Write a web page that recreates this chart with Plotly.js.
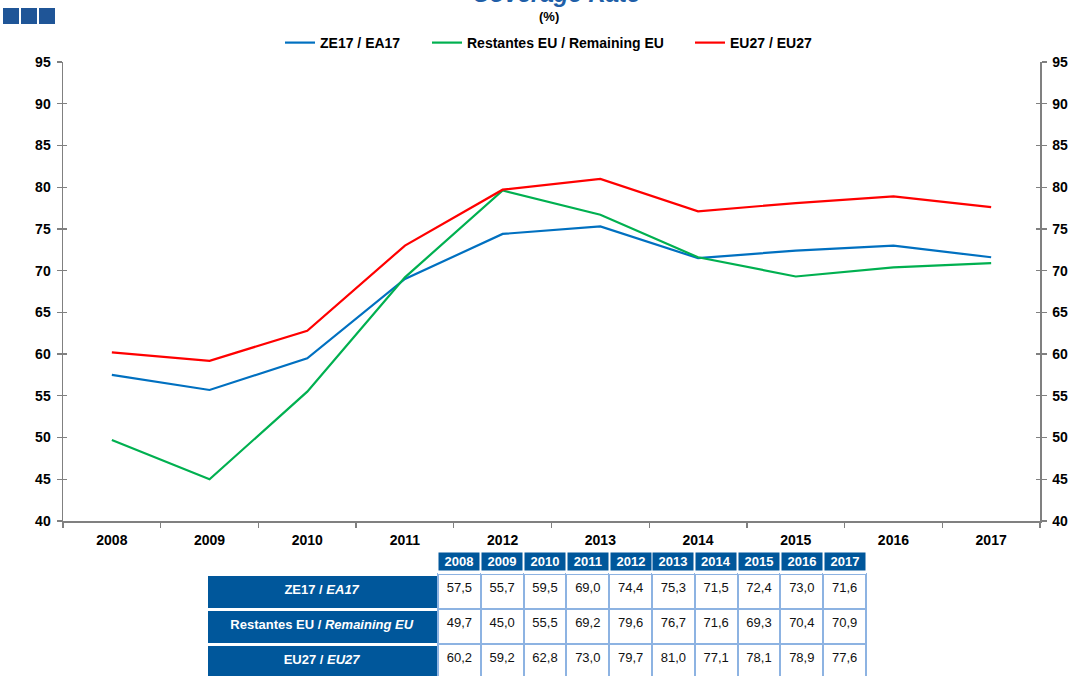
<!DOCTYPE html>
<html>
<head>
<meta charset="utf-8">
<script src="https://cdn.plot.ly/plotly-3.0.1.min.js"></script>
<style>html,body{margin:0;padding:0;background:#fff;}#chart{width:1070px;height:677px;}</style>
</head>
<body>
<div id="chart"></div>
<script>
const years = ['2008','2009','2010','2011','2012','2013','2014','2015','2016','2017'];
const ea17 = [57.5,55.7,59.5,69.0,74.4,75.3,71.5,72.4,73.0,71.6];
const remainingEU = [49.7,45.0,55.5,69.2,79.6,76.7,71.6,69.3,70.4,70.9];
const eu27 = [60.2,59.2,62.8,73.0,79.7,81.0,77.1,78.1,78.9,77.6];
const seriesNames = ['ZE17 / EA17','Restantes EU / Remaining EU','EU27 / EU27'];
const rowLabels = ['<b>ZE17 / <i>EA17</i></b>','<b>Restantes EU / <i>Remaining EU</i></b>','<b>EU27 / <i>EU27</i></b>'];
const colors = ['#0070C0','#00B050','#FF0000'];

const FONT = 'Liberation Sans, Arial, sans-serif';
const BLUE = '#00579B';
const LIGHT = '#8DB3E2';
const fmt = v => v.toFixed(1).replace('.', ',');

// layout geometry helpers (pixels -> paper)
const W = 1070, H = 677, ML = 63, MR = 30, MT = 62, MB = 0;
const PW = W - ML - MR, PH = H - MT - MB;
const px = x => (x - ML) / PW;
const py = y => (H - MB - y) / PH;

const legendIds = ['legend', 'legend2', 'legend3'];
const legendStarts = [285, 432, 695];

const series = [ea17, remainingEU, eu27];
const traces = series.map((s, i) => ({
  type: 'scatter', mode: 'lines', x: years, y: s, name: seriesNames[i],
  line: {color: colors[i], width: 2.2}, xaxis: 'x', yaxis: 'y', hoverinfo: 'x+y',
  legend: legendIds[i]
}));

// table (body rows)
const tblLeft = 206, labelW = 232, colW = 42.8;
const tblRight = tblLeft + labelW + colW * years.length;
const cellValues = [rowLabels];
years.forEach((yr, j) => cellValues.push(series.map(s => fmt(s[j]))));
traces.push({
  type: 'table',
  domain: {x: [px(tblLeft), px(tblRight)], y: [0, py(558)]},
  columnwidth: [labelW].concat(years.map(() => colW)),
  header: {values: [], height: 0, fill: {color: 'white'}, line: {color: 'white', width: 0}},
  cells: {
    values: cellValues,
    fill: {color: [BLUE].concat(years.map(() => 'white'))},
    line: {color: ['white'].concat(years.map(() => LIGHT)), width: [3].concat(years.map(() => 2))},
    font: {family: FONT, size: 13, color: ['white'].concat(years.map(() => '#111'))},
    align: 'center', height: 35
  }
});

// dummy traces to activate overlay axes
['y2','y3','y4'].forEach(ax => traces.push({type:'scatter', x: years, y: ea17, xaxis:'x', yaxis: ax, mode:'lines', line:{width:0}, opacity:0, showlegend:false, hoverinfo:'skip'}));

const yBase = {
  range: [40, 95], dtick: 5, tick0: 40, domain: [py(521), 1],
  showgrid: false, zeroline: false, showline: true, linecolor: '#808080', linewidth: 1.5,
  tickcolor: '#808080', tickwidth: 1.3, fixedrange: true, ticklabelstandoff: 3,
  tickfont: {family: FONT, size: 14, color: '#000', weight: 'bold'}
};

// header row of the table: year boxes
const headerAnns = years.map((yr, j) => ({
  text: '<b>' + yr + '</b>', xref: 'paper', yref: 'paper',
  x: px(tblLeft + labelW + colW * (j + 0.5)), y: py(561.5), xanchor: 'center', yanchor: 'middle',
  width: colW - 3, height: 17, bgcolor: BLUE, borderpad: 0, showarrow: false,
  font: {family: FONT, size: 13, color: 'white'}
}));

const legendBase = {
  orientation: 'h', y: py(43), yanchor: 'middle', xanchor: 'left',
  font: {family: FONT, size: 14, color: '#000', weight: 'bold'},
  itemwidth: 30, bgcolor: 'rgba(0,0,0,0)', borderwidth: 0
};

const layout = {
  width: W, height: H,
  margin: {l: ML, r: MR, t: MT, b: MB},
  paper_bgcolor: 'white', plot_bgcolor: 'white',
  font: {family: FONT, color: '#000'},
  title: {
    text: '<b><i>Coverage Rate</i></b>',
    font: {family: FONT, size: 24, color: '#1F5FA8'},
    x: 0.52, xanchor: 'center', yref: 'container', y: 1 - 2 / H, yanchor: 'bottom'
  },
  showlegend: true,
  legend: Object.assign({}, legendBase, {x: px(legendStarts[0] - 5)}),
  legend2: Object.assign({}, legendBase, {x: px(legendStarts[1] - 5)}),
  legend3: Object.assign({}, legendBase, {x: px(legendStarts[2] - 5)}),
  xaxis: {
    type: 'category', range: [-0.5, 9.5], showgrid: false, zeroline: false,
    showline: true, linecolor: '#808080', linewidth: 1.5,
    ticks: 'outside', tickson: 'boundaries', ticklen: 5, tickcolor: '#808080', tickwidth: 1.3,
    ticklabelstandoff: 6,
    tickfont: {family: FONT, size: 14, color: '#000', weight: 'bold'},
    anchor: 'y', fixedrange: true
  },
  yaxis: Object.assign({}, yBase, {side: 'left', ticks: 'outside', ticklen: 5, anchor: 'x'}),
  yaxis2: Object.assign({}, yBase, {side: 'right', overlaying: 'y', ticks: 'outside', ticklen: 5, anchor: 'x'}),
  yaxis3: Object.assign({}, yBase, {side: 'left', overlaying: 'y', ticks: 'inside', ticklen: 4, showticklabels: false, anchor: 'x'}),
  yaxis4: Object.assign({}, yBase, {side: 'right', overlaying: 'y', ticks: 'inside', ticklen: 4, showticklabels: false, anchor: 'x'}),
  annotations: [{
    text: '<b>(%)</b>', xref: 'paper', yref: 'paper', x: px(549), y: py(17), xanchor: 'center', yanchor: 'middle',
    showarrow: false, font: {family: FONT, size: 13, color: '#000'}
  }].concat(headerAnns),
  shapes: [0, 1, 2].map(k => ({
    type: 'rect', xref: 'paper', yref: 'paper', layer: 'above',
    x0: px(3 + 18 * k), x1: px(19 + 18 * k),
    y0: py(24), y1: py(8),
    fillcolor: '#1F5597', line: {width: 0}
  }))
};

Plotly.newPlot('chart', traces, layout, {displayModeBar: false, staticPlot: true});
</script>
</body>
</html>
